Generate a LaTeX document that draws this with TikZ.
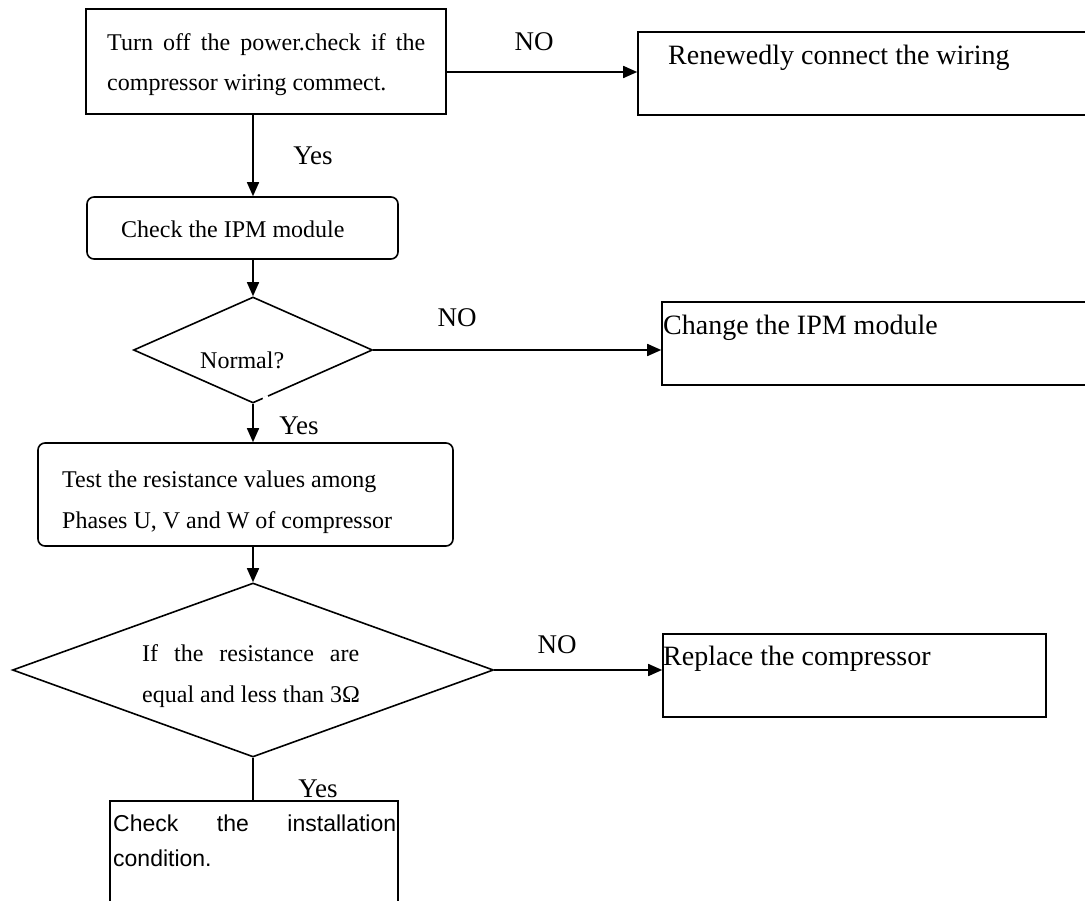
\documentclass[tikz,border=0pt]{standalone}
\usepackage{fontspec}
\setmainfont{Liberation Serif}
\newfontfamily\arialfont{Liberation Sans}
\usetikzlibrary{shapes.geometric,arrows.meta}
\begin{document}
\begin{tikzpicture}[x=1pt,y=-1pt,
  box/.style={draw, line width=1.6pt, inner sep=0pt, rectangle},
  rbox/.style={box, rounded corners=7pt},
  dia/.style={draw, diamond, line width=1.6pt, inner sep=0pt, aspect=1},
  arr/.style={line width=1.6pt, -{Triangle[length=14pt,width=12pt]}},
  con/.style={line width=1.6pt},
  txt/.style={inner sep=0pt, anchor=base west, font=\fontsize{24}{24}\selectfont},
  big/.style={inner sep=0pt, anchor=base west, font=\fontsize{28}{28}\selectfont},
  sans/.style={inner sep=0pt, anchor=base west, font={\arialfont\fontsize{23}{23}\selectfont}},
  lab/.style={inner sep=0pt, anchor=base, font=\fontsize{27}{27}\selectfont},
]
\clip (0,0) rectangle (1085,901);
\fill[white] (0,0) rectangle (1085,901);
\coordinate (col) at (253,0);
\coordinate (y72) at (0,72);

% boxes
\node[box,  minimum width=360pt, minimum height=105pt] (b1) at (266,61.5) {};
\node[box,  minimum width=454pt, minimum height=83pt]  (b2) at (865,73.5) {};
\node[rbox, minimum width=311pt, minimum height=62pt]  (b3) at (242.5,228) {};
\node[dia,  minimum width=239pt, minimum height=106pt] (d1) at (253,350) {};
\node[box,  minimum width=430pt, minimum height=83pt]  (b4) at (877,343.5) {};
\node[rbox, minimum width=415pt, minimum height=103pt] (b5) at (245.5,494.5) {};
\node[dia,  minimum width=481pt, minimum height=174pt] (d2) at (253,670) {};
\node[box,  minimum width=383pt, minimum height=83pt]  (b6) at (854.5,675.5) {};
\node[box,  minimum width=288pt, minimum height=139pt] (b7) at (254,870.5) {};

% small gap in the lower right edge of the first diamond
\draw[white, line width=3pt] (263,398.6) -- (268,396.3);

% texts
\node[txt] (t1a) at (107,51) {\makebox[318pt][s]{Turn off the power.check if the}};
\node[txt] (t1b) at (107,91) {compressor wiring commect.};
\node[big] (t2) at (668,65) {Renewedly connect the wiring};
\node[txt] (t3) at (121,238) {Check the IPM module};
\node[txt] (t4) at (200,369) {Normal?};
\node[big] (t5) at (663,335) {Change the IPM module};
\node[txt] (t6a) at (62,487) {Test the resistance values among};
\node[txt] (t6b) at (62,528) {Phases U, V and W of compressor};
\node[txt] (t7a) at (142,661) {\makebox[217pt][s]{If the resistance are}};
\node[txt] (t7b) at (142,702) {equal and less than 3Ω};
\node[big] (t8) at (663,665) {Replace the compressor};
\node[sans] (t9a) at (113,831) {\makebox[283pt][s]{Check the installation}};
\node[sans] (t9b) at (113,866) {condition.};

% labels
\node[lab] (no1) at (534,51) {NO};
\node[lab] (yes1) at (313,165) {Yes};
\node[lab] (no2) at (457,327) {NO};
\node[lab] (yes2) at (299,435) {Yes};
\node[lab] (no3) at (557,653) {NO};
\node[lab] (yes3) at (318,797) {Yes};

% connectors
\draw[arr] (b1.east |- y72) -- (b2.west |- y72);
\draw[arr] (col |- b1.south) -- (col |- b3.north);
\draw[arr] (col |- b3.south) -- (d1.north);
\draw[arr] (d1.east) -- (d1.east -| b4.west);
\draw[arr] (d1.south) -- (col |- b5.north);
\draw[arr] (col |- b5.south) -- (d2.north);
\draw[arr] (d2.east) -- (d2.east -| b6.west);
\draw[con] (d2.south) -- (col |- b7.north);
\end{tikzpicture}
\end{document}
